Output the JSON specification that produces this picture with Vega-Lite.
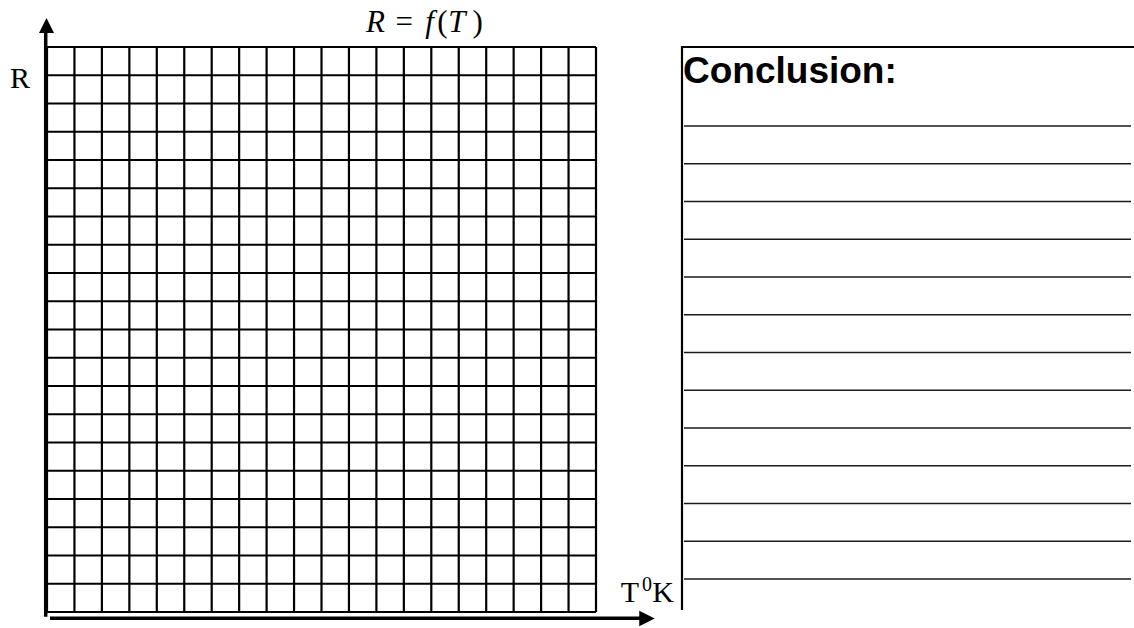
{
  "$schema": "https://vega.github.io/schema/vega-lite/v6.json",
  "width": 1134,
  "height": 628,
  "autosize": "none",
  "padding": 0,
  "background": "white",
  "config": {"view": {"stroke": null}},
  "datasets": {
    "vgrid": [{"col": 0}, {"col": 1}, {"col": 2}, {"col": 3}, {"col": 4}, {"col": 5}, {"col": 6}, {"col": 7}, {"col": 8}, {"col": 9}, {"col": 10}, {"col": 11}, {"col": 12}, {"col": 13}, {"col": 14}, {"col": 15}, {"col": 16}, {"col": 17}, {"col": 18}, {"col": 19}, {"col": 20}],
    "hgrid": [{"row": 0}, {"row": 1}, {"row": 2}, {"row": 3}, {"row": 4}, {"row": 5}, {"row": 6}, {"row": 7}, {"row": 8}, {"row": 9}, {"row": 10}, {"row": 11}, {"row": 12}, {"row": 13}, {"row": 14}, {"row": 15}, {"row": 16}, {"row": 17}, {"row": 18}, {"row": 19}, {"row": 20}],
    "ruled": [{"y": 17.204}, {"y": 15.867}, {"y": 14.531}, {"y": 13.195}, {"y": 11.858}, {"y": 10.522}, {"y": 9.186}, {"y": 7.85}, {"y": 6.513}, {"y": 5.177}, {"y": 3.841}, {"y": 2.504}, {"y": 1.168}],
    "vaxis": [{"x": -0.047, "y1": -0.166, "y2": 20.5}],
    "haxis": [{"y": -0.223, "x1": 0.109, "x2": 21.785}],
    "boxleft": [{"x": 23.133, "y1": 0.071, "y2": 20.035}],
    "boxtop": [{"y": 20.0, "x1": 23.133, "x2": 39.6}],
    "uphead": [{"x": -0.018, "y": 20.761}],
    "righthead": [{"x": 21.858, "y": -0.23}],
    "serif": [{"label": "R", "x": -1.348, "y": 18.549}, {"label": "T", "x": 20.9, "y": 0.354}, {"label": "K", "x": 22.05, "y": 0.354}],
    "sup": [{"label": "0", "x": 21.68, "y": 0.743}],
    "titleItalic": [{"label": "R", "x": 11.62, "y": 20.531}, {"label": "f", "x": 13.78, "y": 20.531}, {"label": "T", "x": 14.62, "y": 20.531}],
    "titleUpright": [{"label": "=", "x": 12.7, "y": 20.531}, {"label": "(", "x": 14.22, "y": 20.531}, {"label": ")", "x": 15.5, "y": 20.531}],
    "heading": [{"label": "Conclusion:", "x": 23.17, "y": 18.726}]
  },
  "layer": [
    {
      "data": {"name": "vgrid"},
      "mark": {"type": "rule", "color": "black", "strokeWidth": 2.2},
      "encoding": {
        "x": {"field": "col", "type": "quantitative", "scale": {"domain": [-1.7122, 39.5993], "nice": false, "zero": false}, "axis": null},
        "y": {"datum": 0, "type": "quantitative", "scale": {"domain": [-0.5664, 21.6637], "nice": false, "zero": false}, "axis": null},
        "y2": {"datum": 20}
      }
    },
    {
      "data": {"name": "hgrid"},
      "mark": {"type": "rule", "color": "black", "strokeWidth": 2.2},
      "encoding": {
        "y": {"field": "row", "type": "quantitative", "scale": {"domain": [-0.5664, 21.6637], "nice": false, "zero": false}, "axis": null},
        "x": {"datum": 0, "type": "quantitative", "scale": {"domain": [-1.7122, 39.5993], "nice": false, "zero": false}, "axis": null},
        "x2": {"datum": 20}
      }
    },
    {
      "data": {"name": "vaxis"},
      "mark": {"type": "rule", "color": "black", "strokeWidth": 3.5},
      "encoding": {
        "x": {"field": "x", "type": "quantitative", "scale": {"domain": [-1.7122, 39.5993], "nice": false, "zero": false}, "axis": null},
        "y": {"field": "y1", "type": "quantitative", "scale": {"domain": [-0.5664, 21.6637], "nice": false, "zero": false}, "axis": null},
        "y2": {"field": "y2"}
      }
    },
    {
      "data": {"name": "haxis"},
      "mark": {"type": "rule", "color": "black", "strokeWidth": 3.5},
      "encoding": {
        "y": {"field": "y", "type": "quantitative", "scale": {"domain": [-0.5664, 21.6637], "nice": false, "zero": false}, "axis": null},
        "x": {"field": "x1", "type": "quantitative", "scale": {"domain": [-1.7122, 39.5993], "nice": false, "zero": false}, "axis": null},
        "x2": {"field": "x2"}
      }
    },
    {
      "data": {"name": "uphead"},
      "mark": {"type": "point", "shape": "M0,-1L-1,1L1,1Z", "filled": true, "size": 225, "color": "black", "opacity": 1, "strokeWidth": 0},
      "encoding": {
        "x": {"field": "x", "type": "quantitative", "scale": {"domain": [-1.7122, 39.5993], "nice": false, "zero": false}, "axis": null},
        "y": {"field": "y", "type": "quantitative", "scale": {"domain": [-0.5664, 21.6637], "nice": false, "zero": false}, "axis": null}
      }
    },
    {
      "data": {"name": "righthead"},
      "mark": {"type": "point", "shape": "M1,0L-1,-1L-1,1Z", "filled": true, "size": 240, "color": "black", "opacity": 1, "strokeWidth": 0},
      "encoding": {
        "x": {"field": "x", "type": "quantitative", "scale": {"domain": [-1.7122, 39.5993], "nice": false, "zero": false}, "axis": null},
        "y": {"field": "y", "type": "quantitative", "scale": {"domain": [-0.5664, 21.6637], "nice": false, "zero": false}, "axis": null}
      }
    },
    {
      "data": {"name": "boxleft"},
      "mark": {"type": "rule", "color": "black", "strokeWidth": 2.2},
      "encoding": {
        "x": {"field": "x", "type": "quantitative", "scale": {"domain": [-1.7122, 39.5993], "nice": false, "zero": false}, "axis": null},
        "y": {"field": "y1", "type": "quantitative", "scale": {"domain": [-0.5664, 21.6637], "nice": false, "zero": false}, "axis": null},
        "y2": {"field": "y2"}
      }
    },
    {
      "data": {"name": "boxtop"},
      "mark": {"type": "rule", "color": "black", "strokeWidth": 2.2},
      "encoding": {
        "y": {"field": "y", "type": "quantitative", "scale": {"domain": [-0.5664, 21.6637], "nice": false, "zero": false}, "axis": null},
        "x": {"field": "x1", "type": "quantitative", "scale": {"domain": [-1.7122, 39.5993], "nice": false, "zero": false}, "axis": null},
        "x2": {"field": "x2"}
      }
    },
    {
      "data": {"name": "ruled"},
      "mark": {"type": "rule", "color": "#1a1a1a", "strokeWidth": 1.5},
      "encoding": {
        "y": {"field": "y", "type": "quantitative", "scale": {"domain": [-0.5664, 21.6637], "nice": false, "zero": false}, "axis": null},
        "x": {"datum": 23.206, "type": "quantitative", "scale": {"domain": [-1.7122, 39.5993], "nice": false, "zero": false}, "axis": null},
        "x2": {"datum": 39.49}
      }
    },
    {
      "data": {"name": "serif"},
      "mark": {"type": "text", "font": "Liberation Serif", "fontSize": 30, "align": "left", "baseline": "alphabetic", "color": "black"},
      "encoding": {
        "x": {"field": "x", "type": "quantitative", "scale": {"domain": [-1.7122, 39.5993], "nice": false, "zero": false}, "axis": null},
        "y": {"field": "y", "type": "quantitative", "scale": {"domain": [-0.5664, 21.6637], "nice": false, "zero": false}, "axis": null},
        "text": {"field": "label"}
      }
    },
    {
      "data": {"name": "sup"},
      "mark": {"type": "text", "font": "Liberation Serif", "fontSize": 20, "align": "left", "baseline": "alphabetic", "color": "black"},
      "encoding": {
        "x": {"field": "x", "type": "quantitative", "scale": {"domain": [-1.7122, 39.5993], "nice": false, "zero": false}, "axis": null},
        "y": {"field": "y", "type": "quantitative", "scale": {"domain": [-0.5664, 21.6637], "nice": false, "zero": false}, "axis": null},
        "text": {"field": "label"}
      }
    },
    {
      "data": {"name": "titleItalic"},
      "mark": {"type": "text", "font": "Liberation Serif", "fontStyle": "italic", "fontSize": 31, "align": "left", "baseline": "alphabetic", "color": "black"},
      "encoding": {
        "x": {"field": "x", "type": "quantitative", "scale": {"domain": [-1.7122, 39.5993], "nice": false, "zero": false}, "axis": null},
        "y": {"field": "y", "type": "quantitative", "scale": {"domain": [-0.5664, 21.6637], "nice": false, "zero": false}, "axis": null},
        "text": {"field": "label"}
      }
    },
    {
      "data": {"name": "titleUpright"},
      "mark": {"type": "text", "font": "Liberation Serif", "fontSize": 31, "align": "left", "baseline": "alphabetic", "color": "black"},
      "encoding": {
        "x": {"field": "x", "type": "quantitative", "scale": {"domain": [-1.7122, 39.5993], "nice": false, "zero": false}, "axis": null},
        "y": {"field": "y", "type": "quantitative", "scale": {"domain": [-0.5664, 21.6637], "nice": false, "zero": false}, "axis": null},
        "text": {"field": "label"}
      }
    },
    {
      "data": {"name": "heading"},
      "mark": {"type": "text", "font": "Liberation Sans", "fontWeight": "bold", "fontSize": 37, "align": "left", "baseline": "alphabetic", "color": "black"},
      "encoding": {
        "x": {"field": "x", "type": "quantitative", "scale": {"domain": [-1.7122, 39.5993], "nice": false, "zero": false}, "axis": null},
        "y": {"field": "y", "type": "quantitative", "scale": {"domain": [-0.5664, 21.6637], "nice": false, "zero": false}, "axis": null},
        "text": {"field": "label"}
      }
    }
  ]
}
